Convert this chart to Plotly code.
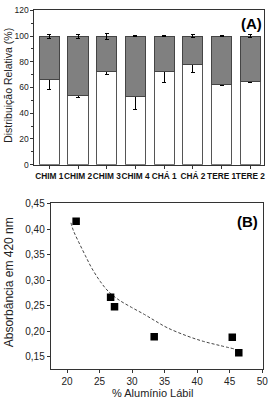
import plotly.graph_objects as go

# Panel A data
categories = ["CHIM 1", "CHIM 2", "CHIM 3", "CHIM 4", "CHÁ 1", "CHÁ 2", "TERE 1", "TERE 2"]
lower_pct = [66.0, 54.0, 72.6, 53.2, 72.2, 78.0, 62.0, 64.6]
lower_err = [7.3, 2.0, 2.5, 10.5, 8.5, 6.7, 0.5, 1.0]
upper_pct = [34.0, 46.0, 27.4, 46.8, 27.8, 22.0, 38.0, 35.4]
upper_err = [1.5, 1.5, 2.3, 0.5, 0.3, 1.0, 0.5, 1.0]

# Panel B data
al_labil = [21.4, 26.7, 27.3, 33.4, 45.4, 46.4]
absorb = [0.416, 0.267, 0.248, 0.189, 0.188, 0.158]
fit_x = [20.6, 21.0, 21.8, 22.8, 23.8, 25.1, 26.3, 27.8, 29.9, 31.9, 33.6, 35.4, 38.4, 41.0, 43.5, 45.8]
fit_y = [0.413, 0.397, 0.375, 0.349, 0.324, 0.298, 0.279, 0.263, 0.247, 0.233, 0.220, 0.207, 0.191, 0.180, 0.172, 0.165]

W, H = 276, 404
FONT = "Liberation Sans, Arial, sans-serif"

fig = go.Figure()

fig.add_trace(go.Bar(
    x=categories, y=lower_pct, width=0.7,
    marker=dict(color="white", line=dict(color="#555555", width=1)),
    error_y=dict(type="data", array=lower_err, color="black", thickness=1, width=2),
    xaxis="x", yaxis="y", showlegend=False))
fig.add_trace(go.Bar(
    x=categories, y=upper_pct, width=0.7,
    marker=dict(color="#808080", line=dict(color="#444444", width=1)),
    error_y=dict(type="data", array=upper_err, color="black", thickness=1, width=2),
    xaxis="x", yaxis="y", showlegend=False))

fig.add_trace(go.Scatter(
    x=fit_x, y=fit_y, mode="lines", line=dict(color="#444444", width=1, dash="3px,2px", shape="spline"),
    xaxis="x2", yaxis="y2", showlegend=False))
fig.add_trace(go.Scatter(
    x=al_labil, y=absorb, mode="markers",
    marker=dict(symbol="square", size=7.5, color="black"),
    xaxis="x2", yaxis="y2", showlegend=False))

def px_x(v):
    return v / W

def px_y(v):
    return 1 - v / H

axis_common = dict(showline=True, linecolor="#333333", linewidth=1, mirror=True,
                   ticks="outside", tickcolor="#333333", ticklen=3, showgrid=False,
                   zeroline=False)

fig.update_layout(
    width=W, height=H,
    margin=dict(l=0, r=0, t=0, b=0),
    paper_bgcolor="white", plot_bgcolor="white",
    barmode="stack", bargap=0.3,
    separators=",.",
    font=dict(family=FONT, color="#222222"),
    xaxis=dict(domain=[px_x(35), px_x(269)], anchor="y", type="category",
               range=[-0.52, 7.48], tickangle=0,
               tickfont=dict(size=8.3, family=FONT, weight="bold", color="#111111"),
               **axis_common),
    yaxis=dict(domain=[px_y(163.7), px_y(5.5)], anchor="x", range=[0, 120],
               tickvals=[0, 20, 40, 60, 80, 100, 120], tickfont=dict(size=8.5),
               minor=dict(dtick=10, ticks="outside", ticklen=2, tickcolor="#333333"),
               **axis_common),
    xaxis2=dict(domain=[px_x(51.7), px_x(267.7)], anchor="y2", range=[17.5, 50.1],
                tickvals=[20, 25, 30, 35, 40, 45, 50], tickfont=dict(size=10),
                **axis_common),
    yaxis2=dict(domain=[px_y(373.7), px_y(203.5)], anchor="x2", range=[0.125, 0.451],
                tickvals=[0.15, 0.20, 0.25, 0.30, 0.35, 0.40, 0.45], tickformat=".2f",
                tickfont=dict(size=10),
                **axis_common),
)

annotations = [
    dict(text="Distribuição Relativa (%)", x=px_x(8), y=px_y(82), textangle=-90,
         font=dict(size=10.5, color="#222222")),
    dict(text="<b>(A)</b>", x=px_x(256.5), y=px_y(18.5), font=dict(size=15, color="black")),
    dict(text="Absorbância em 420 nm", x=px_x(9.5), y=px_y(284), textangle=-90,
         font=dict(size=12, color="#222222")),
    dict(text="% Alumínio Lábil", x=px_x(155), y=px_y(397.5), font=dict(size=11, color="#222222")),
    dict(text="<b>(B)</b>", x=px_x(252.5), y=px_y(222), font=dict(size=15, color="black")),
]
for a in annotations:
    a.update(xref="paper", yref="paper", showarrow=False, xanchor="center", yanchor="middle")
fig.update_layout(annotations=annotations)

fig.write_html("out.html", config={"displayModeBar": False},
               post_script="document.body.style.margin='0px';document.body.style.padding='0px';")
